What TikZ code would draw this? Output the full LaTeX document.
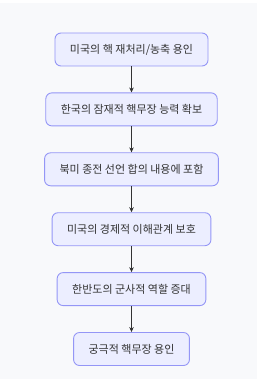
\documentclass[tikz,border=0pt]{standalone}
\usepackage{fontspec}
\setmainfont{Noto Sans CJK KR}
\usetikzlibrary{positioning,arrows.meta}
\definecolor{boxfill}{HTML}{ECEEFF}
\definecolor{boxline}{HTML}{9496F6}
\definecolor{textgray}{HTML}{333333}
\definecolor{bggray}{HTML}{F8F9FB}
\tikzset{
  stepnode/.style={draw=boxline, fill=boxfill, rounded corners=6pt, line width=0.9pt,
    minimum height=33pt, inner xsep=15pt, text=textgray, font=\fontsize{11}{13}\selectfont},
  flow/.style={-{Stealth[length=5pt,width=4.5pt]}, draw=textgray, line width=0.6pt}
}
\begin{document}
\begin{tikzpicture}
        \useasboundingbox (0,0) rectangle (257pt,-379pt);
        \fill[bggray] (0,-3pt) rectangle (257pt,-379pt);
        % Flussdiagramm
        \node[stepnode] (reprocess) at (131.5pt,-49.5pt) {미국의 핵 재처리/농축 용인};
        \node[stepnode, below=26pt of reprocess] (latent) {한국의 잠재적 핵무장 능력 확보};
        \node[stepnode, below=26pt of latent] (declare) {북미 종전 선언 합의 내용에 포함};
        \node[stepnode, below=26pt of declare] (economy) {미국의 경제적 이해관계 보호};
        \node[stepnode, below=26pt of economy] (military) {한반도의 군사적 역할 증대};
        \node[stepnode, below=26pt of military] (ultimate) {궁극적 핵무장 용인};
        \foreach \a/\b in {reprocess/latent, latent/declare, declare/economy, economy/military, military/ultimate}
          \draw[flow] (\a) -- (\b);
      \end{tikzpicture}
\end{document}
